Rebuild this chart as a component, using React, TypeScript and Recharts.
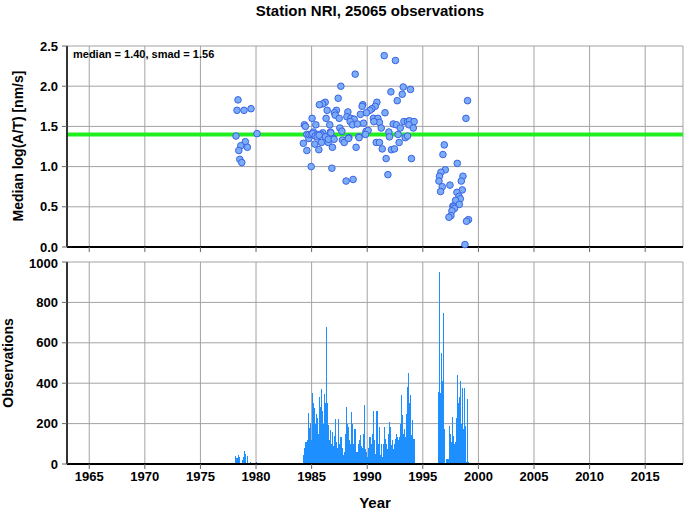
import React from 'react';
import { ComposedChart, Scatter, Bar, XAxis, YAxis, CartesianGrid, ReferenceLine } from 'recharts';

const stationName = 'NRI';
const totalObservations = 25065;
const medianValue = 1.4;
const smadValue = 1.56;

const yearTicks = [1965, 1970, 1975, 1980, 1985, 1990, 1995, 2000, 2005, 2010, 2015];
const medianTicks = [0, 0.5, 1, 1.5, 2, 2.5];
const countTicks = [0, 200, 400, 600, 800, 1000];

// [year, median log(A/T)]
const medianPoints: number[][] = [
  [1978.38, 1.83], [1978.29, 1.7], [1978.92, 1.7], [1979.55, 1.72], [1980.09, 1.41], [1978.2, 1.38],
  [1979.04, 1.31], [1978.63, 1.26], [1979.22, 1.24], [1978.45, 1.2], [1978.54, 1.09], [1978.72, 1.05],
  [1991.53, 2.38], [1992.54, 2.32], [1988.92, 2.15], [1987.63, 2.0], [1993.24, 1.99], [1993.89, 1.96],
  [1992.13, 1.93], [1993.15, 1.9], [1992.7, 1.82], [1987.39, 1.85], [1986.22, 1.8], [1986.0, 1.78],
  [1985.7, 1.77], [1989.6, 1.77], [1989.54, 1.75], [1990.87, 1.8], [1990.72, 1.75], [1990.42, 1.72],
  [1990.24, 1.7], [1989.93, 1.67], [1989.39, 1.65], [1991.6, 1.67], [1986.4, 1.7], [1987.23, 1.7],
  [1987.05, 1.67], [1988.26, 1.68], [1987.12, 1.64], [1987.48, 1.6], [1988.17, 1.62], [1988.53, 1.6],
  [1988.82, 1.59], [1988.47, 1.56], [1988.68, 1.52], [1989.12, 1.53], [1989.67, 1.54], [1985.04, 1.6],
  [1986.3, 1.6], [1990.56, 1.6], [1990.96, 1.6], [1991.1, 1.55], [1990.6, 1.56], [1984.35, 1.52],
  [1984.44, 1.5], [1985.38, 1.52], [1986.63, 1.52], [1992.34, 1.53], [1992.63, 1.52], [1993.3, 1.56],
  [1993.62, 1.56], [1993.8, 1.57], [1994.22, 1.56], [1993.75, 1.52], [1994.14, 1.48], [1992.97, 1.48],
  [1991.26, 1.48], [1987.54, 1.48], [1987.72, 1.44], [1984.57, 1.4], [1984.87, 1.4], [1984.75, 1.35],
  [1985.16, 1.43], [1985.55, 1.4], [1986.0, 1.42], [1985.83, 1.4], [1986.69, 1.43], [1986.55, 1.35],
  [1986.96, 1.35], [1988.35, 1.36], [1989.9, 1.44], [1990.08, 1.45], [1989.84, 1.4], [1989.25, 1.37],
  [1991.95, 1.43], [1992.0, 1.37], [1992.78, 1.4], [1993.42, 1.36], [1993.62, 1.38], [1984.26, 1.29],
  [1984.57, 1.2], [1985.29, 1.28], [1985.88, 1.3], [1985.65, 1.21], [1986.49, 1.3], [1986.87, 1.24],
  [1987.77, 1.33], [1987.93, 1.3], [1989.0, 1.24], [1990.81, 1.3], [1991.1, 1.3], [1991.35, 1.22],
  [1992.18, 1.21], [1992.45, 1.22], [1992.87, 1.3], [1991.7, 1.1], [1993.98, 1.1], [1984.96, 1.0],
  [1986.82, 0.98], [1988.1, 0.82], [1988.73, 0.84], [1991.86, 0.9],
  [1984.75, 1.4], [1984.96, 1.4], [1985.1, 1.41], [1985.32, 1.38], [1985.5, 1.37], [1985.68, 1.39],
  [1986.24, 1.37], [1986.51, 1.34], [1986.73, 1.42], [1987.02, 1.34], [1988.31, 1.35], [1989.27, 1.36],
  [1996.93, 1.27], [1996.81, 1.15], [1997.02, 0.96], [1996.63, 0.93], [1996.5, 0.88], [1996.45, 0.82],
  [1996.75, 0.75], [1996.6, 0.69], [1997.44, 0.77], [1998.1, 1.04], [1998.61, 0.88], [1998.46, 0.82],
  [1998.55, 0.71], [1998.07, 0.68], [1998.25, 0.63], [1998.37, 0.6], [1997.95, 0.58], [1998.28, 0.53],
  [1997.71, 0.51], [1997.75, 0.5], [1997.85, 0.48], [1997.62, 0.45], [1997.53, 0.39], [1997.35, 0.37],
  [1999.11, 0.34], [1998.93, 0.32], [1998.79, 0.03], [1999.02, 1.82], [1998.88, 1.6],
];

// monthly observation counts, each list starts in January of its year
const counts1978 = [0, 40, 30, 25, 30, 45, 35, 5, 0, 20, 35, 65, 50, 0, 40, 0, 0, 0, 10, 0, 0, 0, 0, 0, 12];
const counts1984 = [
  0, 0, 0, 47, 80, 109, 109, 120, 251, 180, 201, 120,
  351, 250, 300, 279, 200, 250, 226, 150, 331, 280, 370, 262,
  200, 348, 300, 678, 406, 300, 192, 120, 167, 100, 158, 90,
  140, 221, 109, 80, 109, 225, 100, 134, 134, 80, 43, 60,
  150, 282, 200, 183, 120, 100, 180, 257, 196, 100, 175, 175,
  59, 59, 100, 117, 146, 90, 79, 150, 290, 120, 76, 60,
  35, 80, 134, 134, 100, 150, 261, 120, 51, 100, 261, 261,
  100, 183, 43, 100, 35, 100, 183, 126, 100, 76, 150, 208,
  140, 183, 93, 120, 76, 100, 126, 150, 134, 120, 134, 200,
  340, 200, 241, 150, 175, 134, 250, 381, 452, 300, 340, 142,
  216, 126, 126, 93,
];
const counts1996 = [
  0, 0, 0, 0, 355, 950, 413, 350, 549, 413, 748, 173,
  0, 27, 27, 25, 190, 150, 107, 120, 231, 140, 100, 107,
  226, 441, 300, 330, 413, 200, 375, 175, 375, 190, 10, 10,
  322, 10,
];

const monthly = (startYear: number, values: number[]) =>
  values.map((count, i) => ({ year: startYear + (i + 0.5) / 12, count }));

const dotData = medianPoints.map(([year, value]) => ({ year, value }));
const barData = [...monthly(1978, counts1978), ...monthly(1984, counts1984), ...monthly(1996, counts1996)];

const font = '"Liberation Sans", Arial, sans-serif';
const tickFont = { fontSize: 13, fontWeight: 'bold', fill: '#000', fontFamily: font };
const gridColor = '#a3a3a3';
const xDomain = [1963, 2018.4];
const noLabel = () => <g />;

const Dot = (props: any) => (
  <circle cx={props.cx} cy={props.cy} r={3.3} fill="#7badf7" stroke="#3a62e6" strokeWidth={1} />
);

const ThinBar = (props: any) => (
  <rect x={props.x} y={props.y} width={Math.max(props.width, 1)} height={props.height}
    fill="#1e8fff" shapeRendering="crispEdges" />
);

export default function App() {
  return (
    <div style={{ position: 'absolute', left: 0, top: 0, width: 685, height: 511, background: '#fff' }}>
      <div style={{ position: 'absolute', left: 0, top: 0 }}>
        <ComposedChart width={685} height={255} margin={{ top: 46, right: 2, left: 17, bottom: 0 }}>
          <CartesianGrid xAxisId="b" yAxisId="l" stroke={gridColor} />
          <XAxis xAxisId="b" dataKey="year" type="number" domain={xDomain} ticks={yearTicks} allowDataOverflow
            height={8} tickSize={5} tick={noLabel} tickLine={{ stroke: '#666' }} axisLine={{ stroke: '#000', strokeWidth: 2 }} />
          <XAxis xAxisId="t" orientation="top" dataKey="year" type="number" domain={xDomain} ticks={yearTicks} allowDataOverflow
            height={0} tickSize={5} tick={noLabel} tickLine={{ stroke: '#666' }} axisLine={{ stroke: '#000', strokeWidth: 2 }} />
          <YAxis yAxisId="l" dataKey="value" type="number" domain={[0, 2.5]} ticks={medianTicks} width={50}
            tickSize={5} tickMargin={4} tick={tickFont} tickFormatter={(v: number) => v.toFixed(1)}
            tickLine={{ stroke: '#666' }} axisLine={{ stroke: '#333', strokeWidth: 2 }} />
          <YAxis yAxisId="r" orientation="right" type="number" domain={[0, 2.5]} width={0}
            tick={false} tickLine={false} axisLine={{ stroke: '#000', strokeWidth: 2 }} />
          <ReferenceLine xAxisId="b" yAxisId="l" y={medianValue} stroke="#1fef1f" strokeWidth={4} />
          <Scatter xAxisId="b" yAxisId="l" data={dotData} dataKey="value" shape={Dot} isAnimationActive={false} />
        </ComposedChart>
      </div>
      <div style={{ position: 'absolute', left: 0, top: 255 }}>
        <ComposedChart width={685} height={256} data={barData} margin={{ top: 7, right: 2, left: 17, bottom: 0 }}>
          <CartesianGrid xAxisId="b" yAxisId="l" stroke={gridColor} />
          <XAxis xAxisId="b" dataKey="year" type="number" domain={xDomain} ticks={yearTicks} allowDataOverflow
            height={47} tickSize={5} tickMargin={3} tick={tickFont}
            tickLine={{ stroke: '#666' }} axisLine={{ stroke: '#000', strokeWidth: 2 }} />
          <XAxis xAxisId="t" orientation="top" dataKey="year" type="number" domain={xDomain} ticks={yearTicks} allowDataOverflow
            height={0} tickSize={5} tick={noLabel} tickLine={{ stroke: '#666' }} axisLine={{ stroke: '#000', strokeWidth: 2 }} />
          <YAxis yAxisId="l" type="number" domain={[0, 1000]} ticks={countTicks} width={50}
            tickSize={5} tickMargin={4} tick={tickFont}
            tickLine={{ stroke: '#666' }} axisLine={{ stroke: '#333', strokeWidth: 2 }} />
          <YAxis yAxisId="r" orientation="right" type="number" domain={[0, 1000]} width={0}
            tick={false} tickLine={false} axisLine={{ stroke: '#000', strokeWidth: 2 }} />
          <Bar xAxisId="b" yAxisId="l" dataKey="count" barSize={1} shape={ThinBar} isAnimationActive={false} />
        </ComposedChart>
      </div>
      <svg width={685} height={511} style={{ position: 'absolute', left: 0, top: 0, pointerEvents: 'none' }}
        fontFamily={font} fontWeight="bold">
        <text x={370} y={16} textAnchor="middle" fontSize={15}>
          {`Station ${stationName}, ${totalObservations} observations`}
        </text>
        <text x={73} y={58} fontSize={11}>
          {`median = ${medianValue.toFixed(2)}, smad = ${smadValue.toFixed(2)}`}
        </text>
        <text transform="translate(23,146) rotate(-90)" textAnchor="middle" fontSize={14}>
          Median log(A/T) [nm/s]
        </text>
        <text transform="translate(13,363) rotate(-90)" textAnchor="middle" fontSize={14}>
          Observations
        </text>
        <text x={375} y={508} textAnchor="middle" fontSize={15}>Year</text>
      </svg>
    </div>
  );
}
